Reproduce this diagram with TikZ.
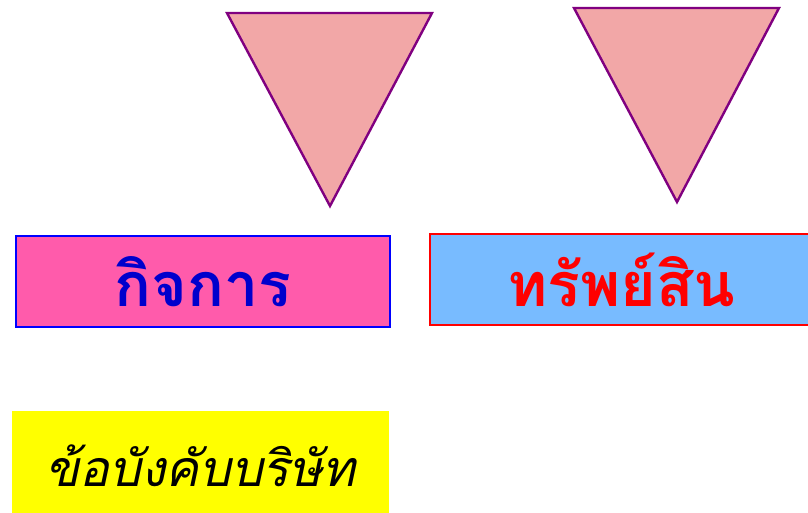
\documentclass[tikz,border=0pt]{standalone}
\usepackage{fontspec}
\newfontfamily\thaifont[Script=Thai]{Loma}
\usepackage{tikz}
\usetikzlibrary{positioning}

\definecolor{trifill}{HTML}{F2A7A7}
\definecolor{triline}{HTML}{800080}
\definecolor{pinkbox}{HTML}{FF5BAB}
\definecolor{bluebox}{HTML}{78BBFF}
\definecolor{darkblue}{HTML}{0000CC}
\definecolor{notebox}{HTML}{FFFF00}

\begin{document}
\begin{tikzpicture}[x=1pt, y=-1pt]
    % Styles
    \tikzstyle{tri} = [draw=triline, fill=trifill, line width=2.4pt, line join=miter]
    \tikzstyle{block} = [rectangle, draw, line width=2pt, minimum width=374pt, minimum height=91pt, inner sep=0pt, font=\thaifont\bfseries\fontsize{61}{63}\selectfont]
    \useasboundingbox (0,0) rectangle (808,512);

    % Triangles
    \draw [tri] (227,13) -- (432,13) -- (330,206) -- cycle;
    \draw [tri] (574,8) -- (779,8) -- (677,202) -- cycle;

    % Nodes
    \node [block, fill=pinkbox, draw=blue, text=darkblue] (biz) at (203,281.5) {กิจการ};
    \node [block, fill=bluebox, draw=red, text=red, minimum width=383pt] (asset) at (621.5,279.5) {ทรัพย์สิน};
    \node [rectangle, fill=notebox, minimum width=377pt, minimum height=109pt, inner sep=0pt, font=\thaifont\itshape\fontsize{50}{52}\selectfont] (rule) at (200.5,465.5) {ข้อบังคับบริษัท};

\end{tikzpicture}
\end{document}
